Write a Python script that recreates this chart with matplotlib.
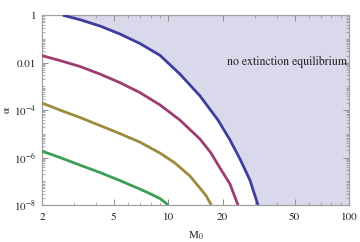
import numpy as np
import matplotlib
matplotlib.use("Agg")
import matplotlib.pyplot as plt
from matplotlib.ticker import FixedLocator, LogLocator, NullFormatter

plt.rcParams['font.family'] = ['STIXGeneral', 'DejaVu Serif']
plt.rcParams['mathtext.fontset'] = 'stix'

# Data (M0, log10 alpha)
blue_M = [2.61, 3.25, 4.19, 5.40, 6.97, 9.0, 11.6, 14.98, 18.84, 21.96, 24.92, 28.3, 31.36]
blue_L = [0.0, -0.186, -0.452, -0.789, -1.19, -1.69, -2.48, -3.40, -4.42, -5.26, -6.06, -6.95, -8.0]

purple_M = [2.0, 2.52, 3.25, 4.19, 5.40, 6.97, 9.0, 11.6, 14.98, 17.2, 19.33, 21.96, 24.3]
purple_L = [-1.70, -1.91, -2.16, -2.48, -2.84, -3.26, -3.78, -4.42, -5.22, -5.80, -6.44, -7.12, -8.0]

olive_M = [2.0, 2.52, 3.25, 4.19, 5.40, 6.97, 9.0, 10.89, 13.18, 14.98, 16.16, 17.3]
olive_L = [-3.70, -4.0, -4.31, -4.65, -4.99, -5.35, -5.81, -6.23, -6.78, -7.29, -7.60, -8.0]

green_M = [2.0, 2.52, 3.25, 4.19, 5.40, 6.97, 7.92, 9.0, 10.0]
green_L = [-5.73, -6.0, -6.32, -6.63, -6.97, -7.33, -7.52, -7.73, -8.0]

x_ticks = [2, 5, 10, 20, 50, 100]
x_ticklabels = ['2', '5', '10', '20', '50', '100']
y_ticks = [1, 1e-2, 1e-4, 1e-6, 1e-8]
y_ticklabels = ['1', '0.01', r'$10^{-4}$', r'$10^{-6}$', r'$10^{-8}$']
xlim = (2, 100)
ylim = (1e-8, 1)

c_blue = (0.24, 0.24, 0.62)
c_purple = (0.62, 0.24, 0.44)
c_olive = (0.62, 0.54, 0.24)
c_green = (0.24, 0.62, 0.34)
c_fill = (0.85, 0.85, 0.92)

fig = plt.figure(figsize=(3.6, 2.42), dpi=100)
ax = fig.add_axes([42/360, 1 - 205/242, (349-42)/360, (205-15.3)/242])

bM = np.array(blue_M)
bA = 10.0 ** np.array(blue_L)
ax.fill(np.r_[bM, xlim[1], xlim[1]], np.r_[bA, ylim[0], ylim[1]],
        color=c_fill, lw=0, zorder=1)

lw = 2.0
for M, L, c in [(blue_M, blue_L, c_blue), (purple_M, purple_L, c_purple),
                (olive_M, olive_L, c_olive), (green_M, green_L, c_green)]:
    ax.plot(M, 10.0 ** np.array(L), color=c, lw=lw, solid_capstyle='butt',
            solid_joinstyle='round', zorder=3)

ax.set_xscale('log')
ax.set_yscale('log')
ax.set_xlim(*xlim)
ax.set_ylim(*ylim)

ax.xaxis.set_major_locator(FixedLocator(x_ticks))
ax.set_xticklabels(x_ticklabels)
ax.xaxis.set_minor_locator(LogLocator(base=10, subs=np.arange(1, 10)))
ax.xaxis.set_minor_formatter(NullFormatter())
ax.yaxis.set_major_locator(FixedLocator(y_ticks))
ax.set_yticklabels(y_ticklabels)
ax.yaxis.set_minor_locator(LogLocator(base=10, subs=np.arange(1, 10), numticks=30))
ax.yaxis.set_minor_formatter(NullFormatter())

spine_c = '#a0a0a0'
for s in ax.spines.values():
    s.set_color(spine_c)
    s.set_linewidth(0.9)
ax.tick_params(which='both', direction='in', top=True, right=True,
               color='#909090', labelsize=8, labelcolor='#222222')
ax.tick_params(which='major', length=4, width=0.7)
ax.tick_params(which='minor', length=2, width=0.5)
ax.tick_params(axis='x', pad=5.5)
ax.tick_params(axis='y', pad=4)

ax.set_xlabel(r'M$_0$', fontsize=8, labelpad=5, color='#222222')
ax.set_ylabel('α', fontsize=8, labelpad=2, color='#222222')

ax.text(21.1, 10 ** -1.97, 'no extinction equilibrium', fontsize=8.5,
        ha='left', va='center', color='#222222', zorder=4)

fig.savefig('out.png', dpi=100)
